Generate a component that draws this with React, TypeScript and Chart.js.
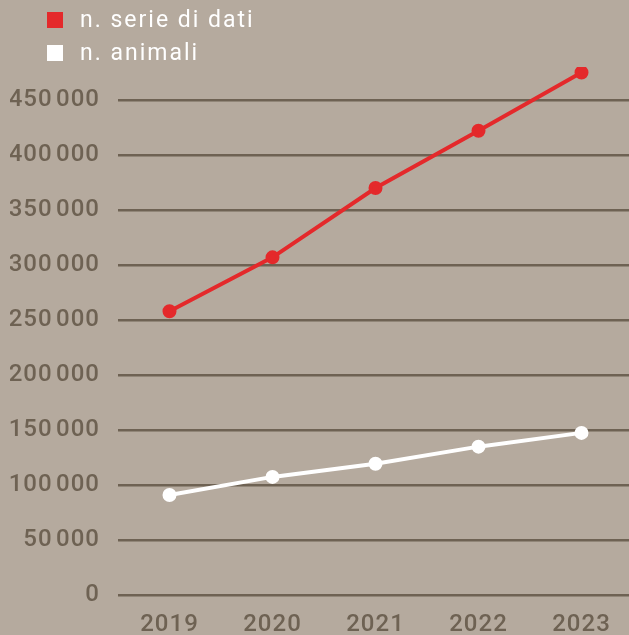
import React, { useEffect, useRef } from "react";
import { Chart, registerables } from "chart.js";

Chart.register(...registerables);

const years = ["2019", "2020", "2021", "2022", "2023"];
const serieDati = [258000, 307000, 370000, 422000, 475000];
const animali = [91000, 107500, 119500, 135000, 147500];
const yTicks = [0, 50000, 100000, 150000, 200000, 250000, 300000, 350000, 400000, 450000];
const seriesLabels = ["n. serie di dati", "n. animali"];
const seriesColors = ["#e4292b", "#ffffff"];

const BG = "#b5aa9e";
const INK = "#6e6253";
const FONT = "Roboto, 'Liberation Sans', Arial, sans-serif";

const fmt = (v: number) => {
  if (v === 0) return "0";
  const s = String(v);
  return s.slice(0, s.length - 3) + "\u200a" + s.slice(-3);
};

export default function App() {
  const ref = useRef<HTMLCanvasElement>(null);
  useEffect(() => {
    document.body.style.margin = "0";
    const spacingPlugin = {
      id: "spacing",
      beforeUpdate(chart: any) {
        chart.ctx.letterSpacing = "1px";
      },
      beforeDraw(chart: any) {
        chart.ctx.letterSpacing = "1px";
      },
    };
    const chart = new Chart(ref.current!, {
      type: "line",
      data: {
        labels: years,
        datasets: [
          {
            label: seriesLabels[0],
            data: serieDati,
            borderColor: seriesColors[0],
            backgroundColor: seriesColors[0],
            borderWidth: 4,
            pointRadius: 5,
            pointHoverRadius: 5,
            tension: 0,
          },
          {
            label: seriesLabels[1],
            data: animali,
            borderColor: seriesColors[1],
            backgroundColor: seriesColors[1],
            borderWidth: 4,
            pointRadius: 5,
            pointHoverRadius: 5,
            tension: 0,
          },
        ],
      },
      options: {
        animation: false,
        responsive: false,
        layout: { padding: { top: 67, left: 10, right: 0, bottom: 0 } },
        plugins: { legend: { display: false }, tooltip: { enabled: false } },
        scales: {
          x: {
            offset: true,
            grid: { display: false, drawTicks: false },
            border: { display: false },
            ticks: {
              color: INK,
              font: { family: FONT, size: 24, weight: 500 },
              padding: 15,
              maxRotation: 0,
            },
          },
          y: {
            min: 0,
            max: 480000,
            afterBuildTicks(axis: any) {
              axis.ticks = yTicks.map((v) => ({ value: v }));
            },
            afterFit(axis: any) {
              axis.width = 108;
            },
            grid: { color: INK, lineWidth: 2.5, drawTicks: false },
            border: { display: false },
            ticks: {
              color: INK,
              autoSkip: false,
              font: { family: FONT, size: 24, weight: 500 },
              padding: 18,
              callback: (v: any) => fmt(Number(v)),
            },
          },
        },
      },
      plugins: [spacingPlugin],
    });
    return () => chart.destroy();
  }, []);

  return (
    <div style={{ position: "relative", width: 629, height: 635, background: BG, overflow: "hidden" }}>
      <canvas ref={ref} width={642} height={654} style={{ display: "block" }} />
      <div style={{ position: "absolute", left: 47, top: 3, fontFamily: FONT, fontSize: 23, color: "#fff", letterSpacing: "2px" }}>
        {seriesLabels.map((l, i) => (
          <div key={l} style={{ display: "flex", alignItems: "center", height: 33 }}>
            <span style={{ width: 16, height: 16, background: seriesColors[i], display: "inline-block", marginRight: 17 }} />
            <span>{l}</span>
          </div>
        ))}
      </div>
    </div>
  );
}
